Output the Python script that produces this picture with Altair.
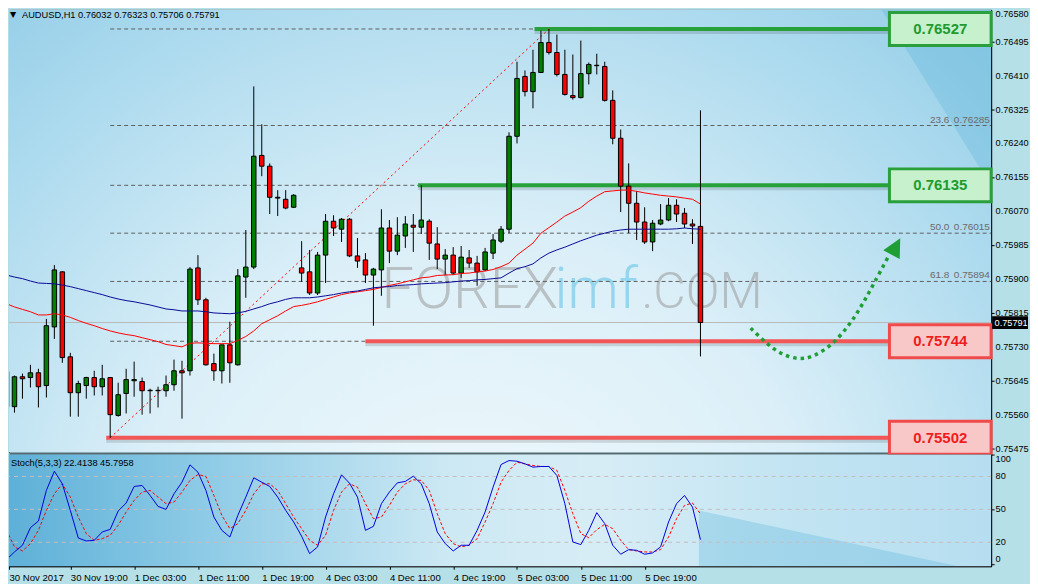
import json
import altair as alt
import pandas as pd

# ---------------- data ----------------
OPEN = [0.75668, 0.75580, 0.75655, 0.75653, 0.75665, 0.75633, 0.75780, 0.75918, 0.75705, 0.75615,
        0.75633, 0.75653, 0.75630, 0.75653, 0.75558, 0.75613, 0.75645, 0.75643, 0.75620, 0.75620,
        0.75620, 0.75635, 0.75670, 0.75670, 0.75928, 0.75848, 0.75688, 0.75670, 0.75735, 0.75685,
        0.75905, 0.75930, 0.76210, 0.76183, 0.76105, 0.76100, 0.76080, 0.75928, 0.75918, 0.75865,
        0.75960, 0.76045, 0.76025, 0.76050, 0.75958, 0.75948, 0.75910, 0.75923, 0.76028, 0.75970,
        0.76008, 0.76035, 0.76030, 0.76045, 0.75988, 0.75950, 0.75960, 0.75915, 0.75953, 0.75940,
        0.75923, 0.75965, 0.75995, 0.76025, 0.76258, 0.76408, 0.76370, 0.76418, 0.76493, 0.76468,
        0.76413, 0.76360, 0.76355, 0.76415, 0.76435, 0.76433, 0.76348, 0.76253, 0.76133, 0.76090,
        0.76043, 0.75993, 0.76038, 0.76048, 0.76085, 0.76065, 0.76038, 0.76032]
HIGH = [0.75673, 0.75658, 0.75663, 0.75685, 0.75675, 0.75800, 0.75935, 0.75920, 0.75715, 0.75645,
        0.75655, 0.75670, 0.75685, 0.75653, 0.75640, 0.75675, 0.75693, 0.75653, 0.75625, 0.75630,
        0.75658, 0.75698, 0.75695, 0.75930, 0.75960, 0.75853, 0.75713, 0.75735, 0.75793, 0.75925,
        0.76023, 0.76383, 0.76288, 0.76190, 0.76123, 0.76123, 0.76113, 0.75995, 0.75973, 0.75968,
        0.76063, 0.76060, 0.76053, 0.76053, 0.76003, 0.75965, 0.75928, 0.76075, 0.76048, 0.76055,
        0.76058, 0.76063, 0.76135, 0.76050, 0.76030, 0.75975, 0.75980, 0.75983, 0.75973, 0.75958,
        0.75978, 0.76013, 0.76033, 0.76268, 0.76445, 0.76423, 0.76475, 0.76523, 0.76527, 0.76513,
        0.76475, 0.76463, 0.76498, 0.76443, 0.76465, 0.76445, 0.76373, 0.76275, 0.76190, 0.76120,
        0.76080, 0.76048, 0.76088, 0.76103, 0.76100, 0.76078, 0.76050, 0.76323]
LOW = [0.75570, 0.75565, 0.75600, 0.75628, 0.75578, 0.75603, 0.75750, 0.75690, 0.75555, 0.75555,
       0.75600, 0.75608, 0.75608, 0.75502, 0.75555, 0.75563, 0.75605, 0.75560, 0.75563, 0.75578,
       0.75605, 0.75620, 0.75550, 0.75658, 0.75835, 0.75683, 0.75645, 0.75638, 0.75640, 0.75683,
       0.75853, 0.75925, 0.76158, 0.76063, 0.76058, 0.76075, 0.76078, 0.75893, 0.75860, 0.75860,
       0.75890, 0.76008, 0.75993, 0.75955, 0.75928, 0.75890, 0.75783, 0.75858, 0.75940, 0.75960,
       0.75978, 0.75968, 0.76013, 0.75948, 0.75925, 0.75910, 0.75910, 0.75903, 0.75928, 0.75883,
       0.75920, 0.75950, 0.75990, 0.76015, 0.76240, 0.76358, 0.76328, 0.76418, 0.76463, 0.76408,
       0.76360, 0.76350, 0.76353, 0.76388, 0.76413, 0.76345, 0.76238, 0.76068, 0.76015, 0.75998,
       0.75988, 0.75970, 0.76035, 0.76045, 0.76043, 0.76028, 0.75988, 0.75706]
CLOSE = [0.75580, 0.75655, 0.75650, 0.75665, 0.75630, 0.75783, 0.75923, 0.75703, 0.75615, 0.75638,
         0.75653, 0.75630, 0.75650, 0.75560, 0.75610, 0.75648, 0.75648, 0.75620, 0.75621, 0.75621,
         0.75635, 0.75670, 0.75665, 0.75925, 0.75848, 0.75685, 0.75670, 0.75735, 0.75690, 0.75908,
         0.75930, 0.76208, 0.76183, 0.76105, 0.76103, 0.76078, 0.76110, 0.75915, 0.75865, 0.75960,
         0.76045, 0.76028, 0.76050, 0.75958, 0.75945, 0.75910, 0.75925, 0.76028, 0.75970, 0.76010,
         0.76038, 0.76030, 0.76048, 0.75990, 0.75950, 0.75960, 0.75915, 0.75955, 0.75940, 0.75918,
         0.75968, 0.75998, 0.76025, 0.76258, 0.76403, 0.76370, 0.76418, 0.76493, 0.76468, 0.76413,
         0.76363, 0.76355, 0.76415, 0.76438, 0.76436, 0.76348, 0.76253, 0.76133, 0.76090, 0.76043,
         0.75993, 0.76040, 0.76048, 0.76085, 0.76063, 0.76038, 0.76033, 0.75791]
MA_FAST = [0.75838, 0.75830, 0.75824, 0.75818, 0.75810, 0.75810, 0.75813, 0.75810, 0.75804, 0.75796,
           0.75789, 0.75783, 0.75776, 0.75770, 0.75765, 0.75761, 0.75758, 0.75753, 0.75748, 0.75743,
           0.75736, 0.75733, 0.75730, 0.75739, 0.75740, 0.75739, 0.75738, 0.75738, 0.75738, 0.75746,
           0.75756, 0.75770, 0.75788, 0.75798, 0.75808, 0.75820, 0.75831, 0.75834, 0.75838, 0.75843,
           0.75849, 0.75855, 0.75861, 0.75865, 0.75868, 0.75871, 0.75874, 0.75879, 0.75884, 0.75888,
           0.75893, 0.75898, 0.75903, 0.75905, 0.75909, 0.75910, 0.75911, 0.75914, 0.75915, 0.75918,
           0.75920, 0.75924, 0.75931, 0.75940, 0.75960, 0.75975, 0.75990, 0.76015, 0.76029, 0.76043,
           0.76058, 0.76068, 0.76079, 0.76095, 0.76108, 0.76119, 0.76121, 0.76123, 0.76123, 0.76120,
           0.76116, 0.76113, 0.76110, 0.76108, 0.76106, 0.76103, 0.76100, 0.76088]
MA_SLOW = [0.75910, 0.75905, 0.75901, 0.75895, 0.75890, 0.75889, 0.75888, 0.75885, 0.75881, 0.75876,
           0.75871, 0.75866, 0.75861, 0.75855, 0.75850, 0.75846, 0.75843, 0.75839, 0.75835, 0.75830,
           0.75825, 0.75823, 0.75820, 0.75820, 0.75820, 0.75818, 0.75815, 0.75814, 0.75813, 0.75815,
           0.75819, 0.75825, 0.75831, 0.75838, 0.75843, 0.75849, 0.75853, 0.75853, 0.75853, 0.75855,
           0.75858, 0.75861, 0.75865, 0.75868, 0.75870, 0.75874, 0.75878, 0.75880, 0.75881, 0.75884,
           0.75885, 0.75886, 0.75888, 0.75889, 0.75890, 0.75891, 0.75893, 0.75895, 0.75896, 0.75898,
           0.75899, 0.75901, 0.75903, 0.75915, 0.75926, 0.75931, 0.75938, 0.75953, 0.75965, 0.75973,
           0.75980, 0.75988, 0.75996, 0.76003, 0.76010, 0.76015, 0.76020, 0.76023, 0.76025, 0.76025,
           0.76025, 0.76025, 0.76025, 0.76025, 0.76026, 0.76028, 0.76026, 0.76025]
STOCH_K = [4.2, 11.2, 17.3, 33.3, 39.4, 67.3, 84.8, 73.3, 49.1, 23.9,
           21.2, 21.8, 29.4, 31.8, 48.5, 55.8, 70.9, 71.8, 62.7, 52.7,
           50.0, 64.2, 74.8, 90.6, 83.9, 67.3, 43.0, 30.9, 24.8, 44.5,
           61.2, 78.8, 74.8, 70.9, 61.2, 49.1, 38.5, 25.5, 9.7, 15.8,
           43.0, 64.2, 81.5, 73.9, 61.2, 30.9, 34.5, 55.2, 65.8, 74.2,
           75.5, 80.3, 73.3, 55.2, 29.4, 18.8, 12.1, 17.3, 17.3, 30.9,
           47.6, 70.3, 90.9, 94.5, 93.9, 91.5, 88.5, 89.1, 89.1, 80.9,
           55.2, 20.3, 17.9, 30.9, 47.0, 37.0, 17.3, 9.1, 13.3, 12.7,
           9.1, 10.3, 15.8, 38.5, 55.2, 62.7, 52.1, 22.4]
STOCH_D = [30.9, 15.8, 12.1, 18.8, 30.9, 49.1, 64.2, 73.3, 61.2, 43.0,
           27.9, 21.8, 23.3, 26.4, 35.5, 47.6, 58.2, 65.8, 67.3, 61.2,
           55.2, 56.7, 65.8, 76.4, 81.8, 80.0, 62.7, 44.5, 32.4, 37.0,
           49.1, 64.2, 73.3, 73.3, 67.3, 55.2, 43.0, 32.4, 21.8, 17.3,
           26.4, 49.1, 65.8, 73.3, 70.3, 55.2, 41.5, 43.0, 53.6, 65.8,
           73.3, 77.0, 76.4, 67.3, 46.1, 27.9, 18.8, 15.8, 17.3, 23.3,
           38.5, 55.2, 74.8, 85.5, 93.0, 91.5, 90.0, 89.1, 89.1, 85.5,
           67.3, 46.1, 27.9, 24.2, 31.5, 36.4, 32.4, 21.8, 13.3, 12.1,
           11.2, 11.2, 13.3, 24.8, 41.5, 53.6, 55.8, 45.8]

TICK_BARS = [0, 8, 16, 24, 32, 40, 48, 56, 64, 72, 80]
TICK_LABELS = ["30 Nov 2017", "30 Nov 19:00", "1 Dec 03:00", "1 Dec 11:00", "1 Dec 19:00",
               "4 Dec 03:00", "4 Dec 11:00", "4 Dec 19:00", "5 Dec 03:00", "5 Dec 11:00",
               "5 Dec 19:00"]
PRICE_TICKS = [0.76495, 0.76410, 0.76325, 0.76240, 0.76155, 0.76070, 0.75985,
               0.75900, 0.75815, 0.75730, 0.75645, 0.75560, 0.75475]
TOP_TICK = 0.76580
STOCH_TICKS = [0, 20, 50, 80, 100]
STOCH_LEVELS = [80, 50, 20]

FIB_LEVELS = [0.0, 23.6, 38.2, 50.0, 61.8, 76.4, 100.0]
FIB_PRICES = [0.76527, 0.76285, 0.76135, 0.76015, 0.75894, 0.75744, 0.75502]
FIB_LABELLED = [23.6, 50.0, 61.8]          # the other labels sit under the price boxes
FIB_FROM_BAR = 13
FIB_TREND_BARS = [13, 68]
FIB_TREND_PRICES = [0.75502, 0.76527]

SR_PRICES = [0.76527, 0.76135, 0.75744, 0.75502]
SR_START = [66.2, 51.6, 45.0, 12.5]
SR_KIND = ["res", "res", "sup", "sup"]

ARROW_X = [93.3, 95.2, 97.2, 99.3, 101.2, 103.5, 105.6, 107.3, 108.9, 110.6]
ARROW_Y = [0.75777, 0.75741, 0.75713, 0.75701, 0.75708, 0.75738, 0.75785, 0.75837, 0.75895, 0.75958]
ARROW_HEAD_X = [111.4]
ARROW_HEAD_Y = [0.75978]

WM_TEXT = ["FOREX", "imf", ".COM"]
WM_X = [47.0, 68.7, 79.6]
WM_Y = 0.75828

HEADER = "AUDUSD,H1  0.76032 0.76323 0.75706 0.75791"
STOCH_HEADER = "Stoch(5,3,3) 22.4138 45.7958"
LAST_PRICE = 0.75791

# background light-ray shading (decoration): darker wedge top-right of the price panel,
# darker wedge bottom-right of the oscillator panel
RAY_MAIN_X = [109.7, 123.4375]
RAY_MAIN_Y = [0.76575, 0.76133]
RAY_STOCH_X = [86.8, 119.3]
RAY_STOCH_Y = [49.0, -1.8]

# ---------------- layout / style ----------------
W = 985
H_MAIN = 444
H_STOCH = 112
X_DOMAIN = [0.3125, 0.3125 + W / 8]
Y_DOMAIN = [0.75465, 0.76575]
S_DOMAIN = [-1.8, 100]
BOX_LEFT = 110.69
BOX_HALF = 0.0004125
FONT = "Liberation Sans"
AX_SIZE = 9.2      # right-hand labels (must fit in the window)
UI_SIZE = 9.6      # time labels
LBL_X = W + 4.5

xscale = alt.Scale(domain=X_DOMAIN, nice=False, zero=False)
yscale = alt.Scale(domain=Y_DOMAIN, nice=False, zero=False)
sscale = alt.Scale(domain=S_DOMAIN, nice=False, zero=False)


def X(field):
    return alt.X(field, type="quantitative", scale=xscale, axis=None)


def Y(field):
    return alt.Y(field, type="quantitative", scale=yscale)


def S(field):
    return alt.Y(field, type="quantitative", scale=sscale)


one = pd.DataFrame({"a": [0]})

candles = pd.DataFrame({
    "bar": list(range(len(CLOSE))), "open": OPEN, "high": HIGH, "low": LOW, "close": CLOSE,
    "ma_fast": MA_FAST, "ma_slow": MA_SLOW, "k": STOCH_K, "d": STOCH_D,
})
candles["dir"] = ["up" if c >= o else "down" for o, c in zip(OPEN, CLOSE)]
base = alt.Chart(candles)

price_axis = alt.Axis(orient="right", values=PRICE_TICKS, title=None, grid=False, labels=False,
                      tickColor="#000", tickSize=3, domainColor="#000")

main_bg = alt.Chart(one).mark_rect(
    fill=alt.RadialGradient(
        gradient="radial", x1=0.47, y1=0.85, r1=0.0, x2=0.47, y2=0.85, r2=1.0,
        stops=[alt.GradientStop(offset=0, color="#f1f9fc"),
               alt.GradientStop(offset=0.35, color="#dbeff8"),
               alt.GradientStop(offset=0.62, color="#acdaee"),
               alt.GradientStop(offset=0.85, color="#86c7e4"),
               alt.GradientStop(offset=1, color="#68b6da")])
).encode(x=alt.value(0), x2=alt.value(W), y=alt.value(0), y2=alt.value(H_MAIN))

ray_main = alt.Chart(pd.DataFrame({"x": RAY_MAIN_X, "y": RAY_MAIN_Y, "y2": [Y_DOMAIN[1]] * 2})).mark_area(
    color="#4fa9d6", opacity=0.26, clip=True).encode(x=X("x"), y=Y("y"), y2="y2:Q")

# invisible layer that carries the price axis (ticks + domain)
main_axis = base.mark_point(opacity=0, size=0, clip=True).encode(
    x=X("bar"), y=alt.Y("close:Q", scale=yscale, axis=price_axis))

wm_df = pd.DataFrame({"t": WM_TEXT, "x": WM_X, "y": [WM_Y] * len(WM_TEXT)})
wm_style = {"FOREX": ("#9a9a9a", 58, 0.55), "imf": ("#7fcdeb", 58, 0.75), ".COM": ("#9a9a9a", 50, 0.55)}
wm_layers = []
for t, (col, size, op) in wm_style.items():
    wm_layers.append(alt.Chart(wm_df).transform_filter(alt.datum.t == t).mark_text(
        font="Roboto", fontWeight=300, fontSize=size, color=col, opacity=op,
        align="left", baseline="alphabetic").encode(x=X("x"), y=Y("y"), text="t:N"))

fib_df = pd.DataFrame({"lvl": FIB_LEVELS, "level": [f"{l:.1f}" for l in FIB_LEVELS], "price": FIB_PRICES})
fib_df["x0"] = FIB_FROM_BAR
fib_df["x1"] = X_DOMAIN[1]
fib_lab_df = fib_df[fib_df["lvl"].isin(FIB_LABELLED)]
fib_lines = alt.Chart(fib_df).mark_rule(color="#5f5f5f", strokeWidth=1, strokeDash=[4, 3]).encode(
    x=X("x0"), x2="x1:Q", y=Y("price"))
fib_lvl_text = alt.Chart(fib_lab_df).transform_calculate(tx="118.2").mark_text(
    font=FONT, fontSize=10, color="#6a6a6a", align="right", baseline="middle", dy=-6
).encode(x=X("tx"), y=Y("price"), text="level:N")
fib_px_text = alt.Chart(fib_lab_df).transform_calculate(
    tx=str(X_DOMAIN[1] - 0.15), lbl="format(datum.price, '.5f')").mark_text(
    font=FONT, fontSize=10, color="#6a6a6a", align="right", baseline="middle", dy=-6
).encode(x=X("tx"), y=Y("price"), text="lbl:N")

trend_df = pd.DataFrame({"x": FIB_TREND_BARS, "y": FIB_TREND_PRICES})
fib_trend = alt.Chart(trend_df).mark_line(color="#ff0000", strokeWidth=1, strokeDash=[2, 3]).encode(
    x=X("x"), y=Y("y"))

last_df = pd.DataFrame({"price": [LAST_PRICE], "label": [f"{LAST_PRICE:.5f}"]})
last_line = alt.Chart(last_df).mark_rule(color="#b9b9b9", strokeWidth=1).encode(y=Y("price"))

sr_df = pd.DataFrame({"price": SR_PRICES, "start": SR_START, "kind": SR_KIND,
                      "label": [f"{p:.5f}" for p in SR_PRICES]})
sr_df["end"] = BOX_LEFT
sr_df["box_r"] = X_DOMAIN[1]
sr_df["mid"] = (BOX_LEFT + X_DOMAIN[1]) / 2
sr_df["top"] = sr_df["price"] + BOX_HALF
sr_df["bot"] = sr_df["price"] - BOX_HALF
sr_style = {
    "res": {"line": "#27a23a", "fill": "#c6f1cc", "stroke": "#2a9f3b", "text": "#1f9a2f"},
    "sup": {"line": "#f25656", "fill": "#f8c8c8", "stroke": "#f04a4a", "text": "#ee1c1c"},
}
sr_layers = []
box_layers = []
for kind, st in sr_style.items():
    src = alt.Chart(sr_df).transform_filter(alt.datum.kind == kind)
    sr_layers.append(src.mark_rule(color="#000", opacity=0.13, strokeWidth=4, yOffset=3).encode(
        x=X("start"), x2="end:Q", y=Y("price")))
    sr_layers.append(src.mark_rule(color=st["line"], strokeWidth=4).encode(
        x=X("start"), x2="end:Q", y=Y("price")))
    box_layers.append(src.mark_rect(fill="#000", opacity=0.16, xOffset=3, yOffset=3).encode(
        x=X("end"), x2="box_r:Q", y=Y("top"), y2="bot:Q"))
    box_layers.append(src.mark_rect(fill=st["fill"], stroke=st["stroke"], strokeWidth=3).encode(
        x=X("end"), x2="box_r:Q", y=Y("top"), y2="bot:Q"))
    box_layers.append(src.mark_text(font=FONT, fontSize=15, fontWeight="bold", color=st["text"],
                                    align="center", baseline="middle").encode(
        x=X("mid"), y=Y("price"), text="label:N"))

ma_fast = base.mark_line(color="#ff0000", strokeWidth=1, clip=True).encode(x=X("bar"), y=Y("ma_fast"))
ma_slow = base.mark_line(color="#0a0a96", strokeWidth=1, clip=True).encode(x=X("bar"), y=Y("ma_slow"))

wicks = base.mark_rule(color="#000", strokeWidth=1, clip=True).encode(
    x=X("bar"), y=Y("low"), y2="high:Q")
bodies = base.transform_calculate(b0="datum.bar - 0.28", b1="datum.bar + 0.28").mark_rect(
    stroke="#000", strokeWidth=1, clip=True).encode(
    x=X("b0"), x2="b1:Q", y=Y("open"), y2="close:Q",
    fill=alt.Fill("dir:N", scale=alt.Scale(domain=["up", "down"], range=["#008000", "#ff0000"]),
                  legend=None))

arrow_df = pd.DataFrame({"x": ARROW_X, "y": ARROW_Y})
arrow = alt.Chart(arrow_df).mark_line(color="#1f9e34", strokeWidth=3.5, strokeDash=[3.5, 4],
                                      interpolate="cardinal").encode(x=X("x"), y=Y("y"))
head_df = pd.DataFrame({"x": ARROW_HEAD_X, "y": ARROW_HEAD_Y})
arrow_head = alt.Chart(head_df).mark_point(shape="M0,-1L0.85,0.7L-0.85,0.7Z", size=484, filled=True,
                                           color="#1f9e34", opacity=1, angle=28).encode(
    x=X("x"), y=Y("y"))

# right-hand price labels (drawn as text so that none is dropped)
plabels = pd.DataFrame({"price": PRICE_TICKS, "label": [f"{p:.5f}" for p in PRICE_TICKS]})
price_labels = alt.Chart(plabels).mark_text(font=FONT, fontSize=AX_SIZE, color="#000", align="left",
                                            baseline="middle").encode(
    x=alt.value(LBL_X), y=Y("price"), text="label:N")
top_tick = alt.Chart(pd.DataFrame({"label": [f"{TOP_TICK:.5f}"]})).mark_text(
    font=FONT, fontSize=AX_SIZE, color="#000", align="left", baseline="top").encode(
    x=alt.value(LBL_X), y=alt.value(0), text="label:N")
tag_box = alt.Chart(last_df).transform_calculate(t="datum.price + 0.00016", b="datum.price - 0.00016").mark_rect(
    fill="#000").encode(x=alt.value(W + 1), x2=alt.value(W + 37), y=Y("t"), y2="b:Q")
tag_text = alt.Chart(last_df).mark_text(font=FONT, fontSize=AX_SIZE, color="#fff", align="left",
                                        baseline="middle").encode(
    x=alt.value(W + 3.5), y=Y("price"), text="label:N")

head_tri = alt.Chart(one).mark_text(text="▼", font="DejaVu Sans", fontSize=8, color="#000",
                                    align="left", baseline="middle").encode(x=alt.value(1), y=alt.value(5))
head_txt = alt.Chart(one).mark_text(text=HEADER, font=FONT, fontSize=9.3, color="#000",
                                    align="left", baseline="middle").encode(x=alt.value(13), y=alt.value(5))

main = alt.layer(
    main_bg, main_axis, ray_main, *wm_layers, fib_lines, fib_lvl_text, fib_px_text, last_line,
    *sr_layers, fib_trend, wicks, bodies, ma_fast, ma_slow, *box_layers, arrow, arrow_head,
    price_labels, top_tick, tag_box, tag_text, head_tri, head_txt
).properties(width=W, height=H_MAIN)

# ---------------- stochastic panel ----------------
time_axis = alt.Axis(values=[X_DOMAIN[0]] + TICK_BARS[1:],
                     labelExpr=json.dumps(TICK_LABELS) + "[round(datum.value / 8)]",
                     labelAlign="left", labelPadding=3, tickSize=3, labelFont=FONT, labelFontSize=UI_SIZE,
                     labelColor="#000", tickColor="#000", domainColor="#000", grid=False, title=None,
                     labelOverlap=False, labelFlush=False)
stoch_axis = alt.Axis(orient="right", values=STOCH_TICKS, title=None, grid=False, labels=False,
                      tickColor="#000", tickSize=3, domainColor="#000")

stoch_bg = alt.Chart(one).mark_rect(
    fill=alt.LinearGradient(
        gradient="linear", x1=0, y1=0, x2=1, y2=0,
        stops=[alt.GradientStop(offset=0, color="#5eb0d8"),
               alt.GradientStop(offset=0.2, color="#8ecbe6"),
               alt.GradientStop(offset=0.45, color="#cde9f4"),
               alt.GradientStop(offset=0.6, color="#d7edf6"),
               alt.GradientStop(offset=0.8, color="#c2e4f2"),
               alt.GradientStop(offset=1, color="#b6def0")])
).encode(x=alt.value(0), x2=alt.value(W), y=alt.value(0), y2=alt.value(H_STOCH))

ray_stoch = alt.Chart(pd.DataFrame({"x": RAY_STOCH_X, "y": RAY_STOCH_Y, "y2": [S_DOMAIN[0]] * 2})).mark_area(
    color="#6dbde0", opacity=0.38, clip=True).encode(x=alt.X("x:Q", scale=xscale), y=S("y"), y2="y2:Q")

stoch_axes = base.mark_point(opacity=0, size=0, clip=True).encode(
    x=alt.X("bar:Q", scale=xscale, axis=time_axis), y=alt.Y("k:Q", scale=sscale, axis=stoch_axis))

lvl_df = pd.DataFrame({"lvl": STOCH_LEVELS})
stoch_grid = alt.Chart(lvl_df).mark_rule(color="#c8bdbd", strokeWidth=1, strokeDash=[4, 4]).encode(
    y=S("lvl"))
k_line = base.mark_line(color="#0000dd", strokeWidth=1, clip=True).encode(
    x=alt.X("bar:Q", scale=xscale), y=S("k"))
d_line = base.mark_line(color="#ff0000", strokeWidth=1, strokeDash=[3, 2], clip=True).encode(
    x=alt.X("bar:Q", scale=xscale), y=S("d"))
stoch_txt = alt.Chart(one).mark_text(text=STOCH_HEADER, font=FONT, fontSize=9.3, color="#000",
                                     align="left", baseline="middle").encode(x=alt.value(2), y=alt.value(8))

slabels = pd.DataFrame({"v": STOCH_TICKS, "label": [str(v) for v in STOCH_TICKS]})
s_lo, s_hi = min(STOCH_TICKS), max(STOCH_TICKS)
stoch_lab_layers = []
for cond, bl in [(f"datum.v == {s_hi}", "top"), (f"datum.v == {s_lo}", "bottom"),
                 (f"datum.v > {s_lo} && datum.v < {s_hi}", "middle")]:
    stoch_lab_layers.append(alt.Chart(slabels).transform_filter(cond).mark_text(
        font=FONT, fontSize=AX_SIZE, color="#000", align="left", baseline=bl).encode(
        x=alt.value(LBL_X), y=S("v"), text="label:N"))

stoch = alt.layer(stoch_bg, stoch_axes, ray_stoch, stoch_grid, d_line, k_line, stoch_txt,
                  *stoch_lab_layers).properties(width=W, height=H_STOCH)

chart = alt.vconcat(main, stoch, spacing=2, bounds="flush").properties(
    padding=0, background="#b6e0e8"
).configure_view(stroke="#000", strokeWidth=1)

chart.save("out.html", embed_options={"renderer": "svg", "actions": False})
